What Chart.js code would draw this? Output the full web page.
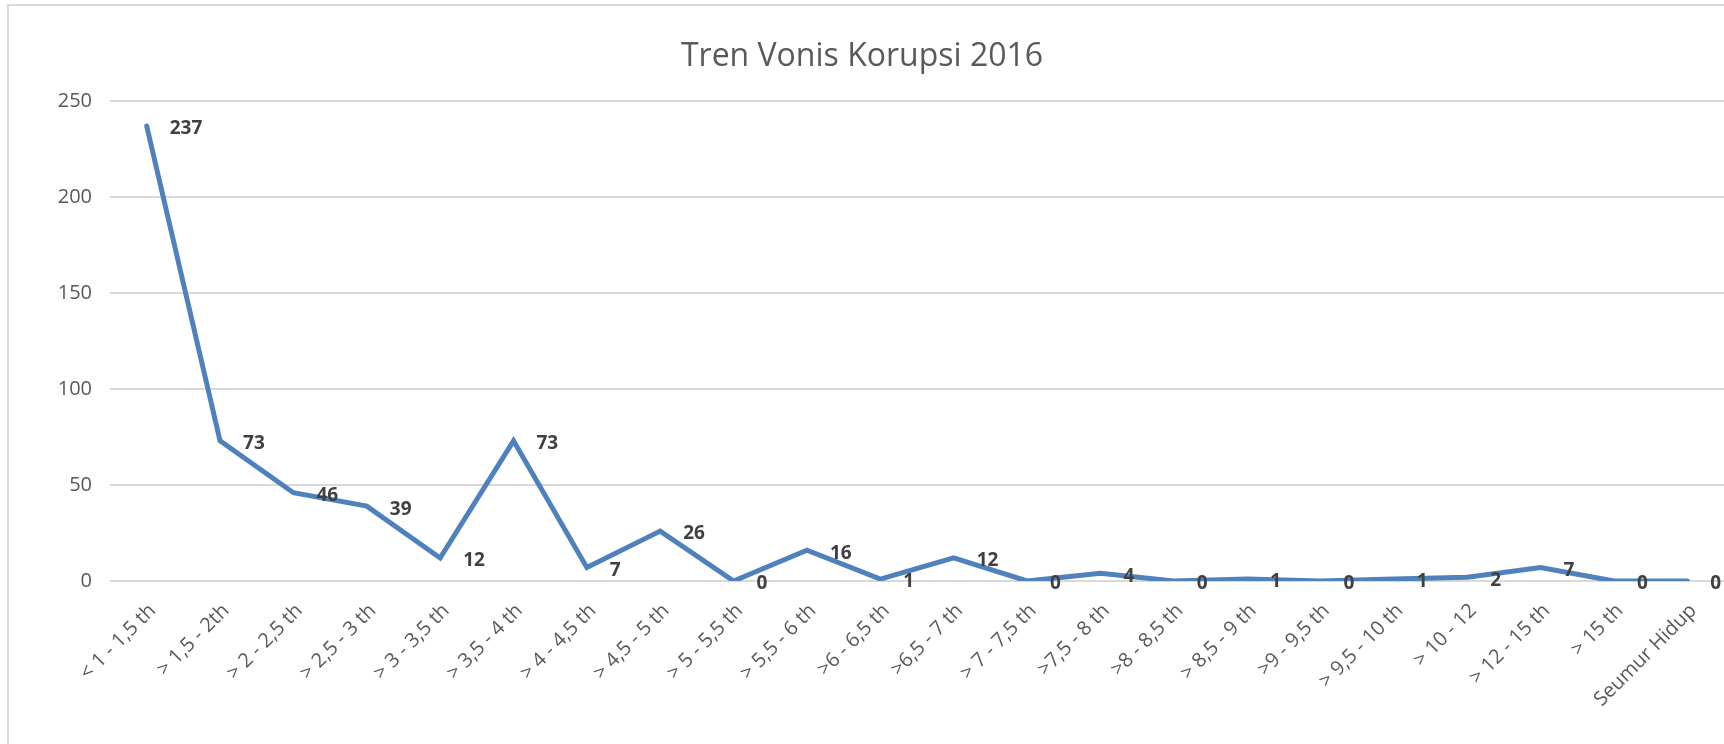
<!DOCTYPE html>
<html>
<head>
<meta charset="utf-8">
<title>Tren Vonis Korupsi 2016</title>
<script src="https://cdn.jsdelivr.net/npm/chart.js@4/dist/chart.umd.min.js"></script>
<style>
    body { margin: 0; background: #ffffff; }
    #frame {
        position: absolute;
        left: 7px;
        top: 4px;
        width: 1760px;
        height: 800px;
        border-left: 2px solid #d9d9d9;
        border-top: 2px solid #d9d9d9;
    }
    #wrap { position: absolute; left: 0; top: 0; width: 1724px; height: 744px; }
</style>
</head>
<body>
<div id="frame"></div>
<div id="wrap"><canvas id="vonisChart" width="1724" height="744"></canvas></div>

<script>
// Tren Vonis Korupsi 2016

const chartTitle = "Tren Vonis Korupsi 2016";

const categories = [
    "< 1 - 1,5 th", "> 1,5 - 2th", "> 2 - 2,5 th", "> 2,5 - 3 th",
    "> 3 - 3,5 th", "> 3,5 - 4 th", "> 4 - 4,5 th", "> 4,5 - 5 th",
    "> 5 - 5,5 th", "> 5,5 - 6 th", ">6 - 6,5 th", ">6,5 - 7 th",
    "> 7 - 7,5 th", ">7,5 - 8 th", ">8 - 8,5 th", "> 8,5 - 9 th",
    ">9 - 9,5 th", "> 9,5 - 10 th", "> 10 - 12", "> 12 - 15 th",
    "> 15 th", "Seumur Hidup"
];

const vonisCount = [
    237, 73, 46, 39, 12, 73, 7, 26, 0, 16, 1,
    12, 0, 4, 0, 1, 0, 1, 2, 7, 0, 0
];

const yTicks = [0, 50, 100, 150, 200, 250];

// draws the value next to each point, like the excel data labels
const valueLabels = {
    id: "valueLabels",
    afterDatasetsDraw(chart) {
        const ctx = chart.ctx;
        const meta = chart.getDatasetMeta(0);
        ctx.save();
        ctx.font = "bold 19px 'Open Sans'";
        ctx.fillStyle = "#404040";
        ctx.textAlign = "left";
        ctx.textBaseline = "middle";
        meta.data.forEach((pt, i) => {
            ctx.fillText(String(vonisCount[i]), pt.x + 23, pt.y + 3);
        });
        ctx.restore();
    }
};

const chart = new Chart(document.getElementById("vonisChart"), {

    type: "line",

    data: {
        labels: categories,
        datasets: [{
            label: chartTitle,
            data: vonisCount,
            borderColor: "#4f81bd",
            borderWidth: 5,
            borderCapStyle: "round",
            tension: 0,
            pointRadius: 0,
            fill: false
        }]
    },

    options: {
        responsive: false,
        animation: false,
        devicePixelRatio: 1,
        layout: {
            padding: { left: 0, right: 0, top: 0, bottom: 0 }
        },
        plugins: {
            legend: { display: false },
            tooltip: { enabled: false },
            title: {
                display: true,
                text: chartTitle,
                color: "#595959",
                font: { family: "'Open Sans'", size: 32, weight: "normal", lineHeight: 1.2 },
                padding: { top: 38, bottom: 24.6 }
            }
        },
        scales: {
            x: {
                offset: true,
                grid: { display: false, drawTicks: false },
                border: { display: false },
                ticks: {
                    autoSkip: false,
                    minRotation: 45,
                    maxRotation: 45,
                    padding: 18,
                    labelOffset: 6,
                    color: "#595959",
                    font: { family: "'Open Sans'", size: 20 }
                },
                afterFit(scale) { scale.height = 163; }
            },
            y: {
                min: 0,
                max: 250,
                grid: { color: "#d9d9d9", lineWidth: 2, drawTicks: false },
                border: { display: false },
                afterBuildTicks(scale) {
                    scale.ticks = yTicks.map(v => ({ value: v }));
                },
                ticks: {
                    padding: 18,
                    color: "#595959",
                    font: { family: "'Open Sans'", size: 20 }
                },
                afterFit(scale) { scale.width = 110; }
            }
        }
    },

    plugins: [valueLabels]

});
</script>
</body>
</html>
